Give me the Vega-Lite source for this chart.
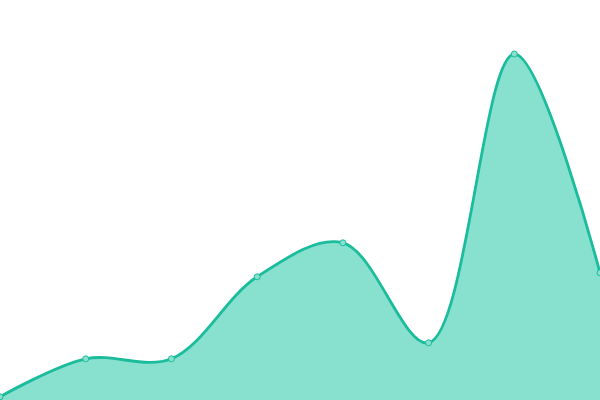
{
  "$schema": "https://vega.github.io/schema/vega-lite/v6.json",
  "width": 600,
  "height": 400,
  "autosize": "none",
  "padding": 0,
  "background": "#ffffff",
  "config": {"view": {"stroke": null}},
  "data": {
    "values": [
      {"i": 0, "v": 0.8},
      {"i": 1, "v": 10.3},
      {"i": 2, "v": 10.3},
      {"i": 3, "v": 30.8},
      {"i": 4, "v": 39.3},
      {"i": 5, "v": 14.3},
      {"i": 6, "v": 86.5},
      {"i": 7, "v": 31.8}
    ]
  },
  "encoding": {
    "x": {"field": "i", "type": "quantitative", "axis": null, "scale": {"domain": [0, 7], "nice": false, "zero": false}},
    "y": {"field": "v", "type": "quantitative", "axis": null, "scale": {"domain": [0, 100], "nice": false}}
  },
  "layer": [
    {"mark": {"type": "area", "interpolate": "catmull-rom", "color": "#88e0cf", "opacity": 1}},
    {"mark": {"type": "line", "interpolate": "catmull-rom", "color": "#1abc9c", "strokeWidth": 2.8}},
    {"mark": {"type": "point", "filled": true, "fill": "#88e0cf", "stroke": "#1abc9c", "strokeWidth": 1, "size": 36, "opacity": 1}}
  ]
}
